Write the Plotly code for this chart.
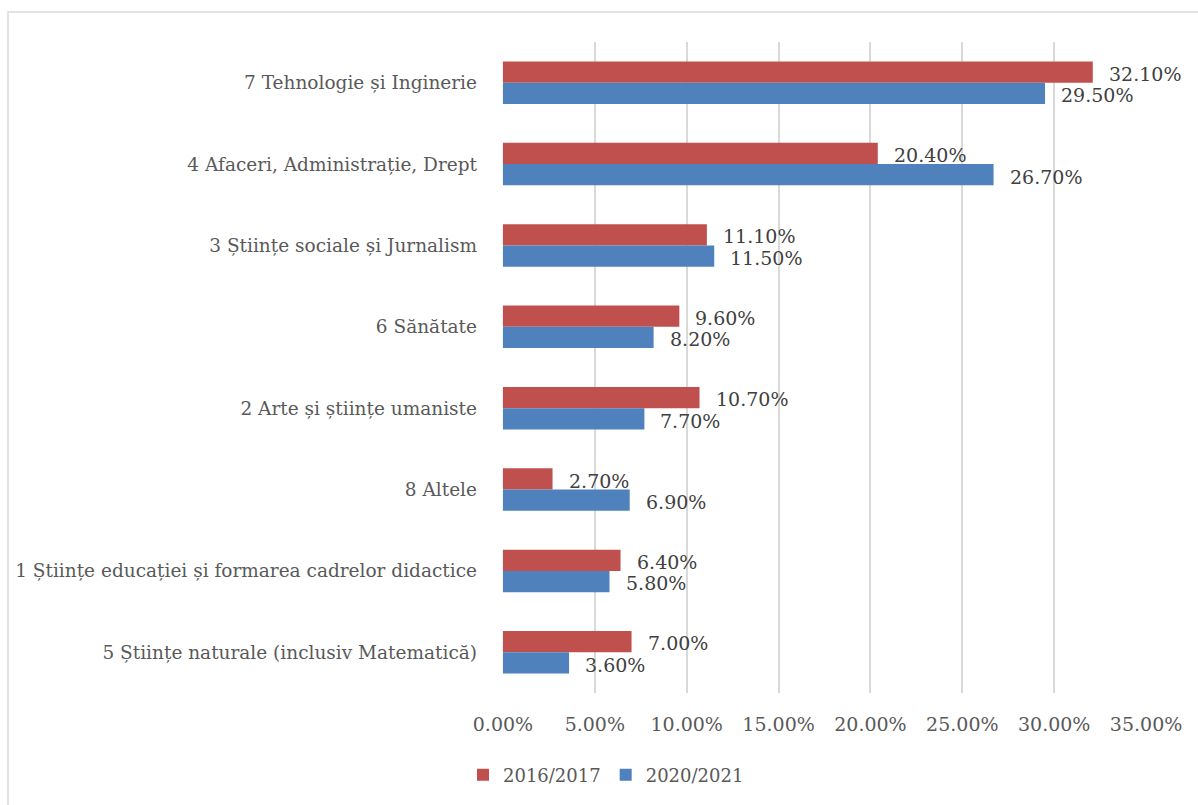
import plotly.graph_objects as go

categories = [
    "7 Tehnologie și Inginerie",
    "4 Afaceri, Administrație, Drept",
    "3 Științe sociale și Jurnalism",
    "6 Sănătate",
    "2 Arte și științe umaniste",
    "8 Altele",
    "1 Științe educației și formarea cadrelor didactice",
    "5 Științe naturale (inclusiv Matematică)",
]
series_names = ["2016/2017", "2020/2021"]
values_2016 = [0.321, 0.204, 0.111, 0.096, 0.107, 0.027, 0.064, 0.070]
values_2020 = [0.295, 0.267, 0.115, 0.082, 0.077, 0.069, 0.058, 0.036]
tick_values = [0, 0.05, 0.10, 0.15, 0.20, 0.25, 0.30, 0.35]

colors = ["#C0504D", "#4F81BD"]
FONT = "DejaVu Serif"
FS = 19
W, H = 1198, 805
L, R, T, B = 502, 51, 42, 112

fig = go.Figure()
for name, vals, col in zip(series_names, [values_2016, values_2020], colors):
    fig.add_trace(go.Bar(
        y=categories, x=vals, name=name, orientation="h",
        marker=dict(color=col, line=dict(width=0)),
    ))

annotations = []
for vals, ys in [(values_2016, 9), (values_2020, -12.5)]:
    for c, v in zip(categories, vals):
        annotations.append(dict(
            x=v, y=c, xref="x", yref="y", text=f"{v*100:.2f}%",
            showarrow=False, xanchor="left", yanchor="middle",
            xshift=14, yshift=ys,
            font=dict(family=FONT, size=FS, color="#404040"),
        ))

pw = W - L - R
ph = H - T - B
fig.update_layout(
    width=W, height=H,
    margin=dict(l=L, r=R, t=T, b=B, pad=0),
    paper_bgcolor="white", plot_bgcolor="white",
    barmode="group", bargap=0.477, bargroupgap=0,
    font=dict(family=FONT, size=FS, color="#595959"),
    xaxis=dict(
        range=[-0.0005, 0.3505], tickvals=tick_values, tickformat=".2%",
        showgrid=True, gridcolor="#D9D9D9", gridwidth=1.5,
        zeroline=False, showline=False, ticks="",
        ticklabelstandoff=18,
        tickfont=dict(family=FONT, size=FS, color="#595959"),
    ),
    yaxis=dict(
        autorange="reversed", showgrid=False, zeroline=False,
        showline=False, ticks="", ticklabelstandoff=24,
        tickfont=dict(family=FONT, size=18.5, color="#595959"),
    ),
    legend=dict(
        orientation="h", x=(463 - L) / pw, xanchor="left",
        y=-(775 - (T + ph)) / ph, yanchor="middle",
        font=dict(family=FONT, size=18, color="#595959"),
        itemwidth=30, traceorder="normal",
    ),
    annotations=annotations,
    shapes=[dict(
        type="rect", xref="paper", yref="paper",
        x0=(8 - L) / pw, x1=(1210 - L) / pw,
        y0=-(820 - (T + ph)) / ph, y1=1 + (T - 12) / ph,
        line=dict(color="#D9D9D9", width=1.5), fillcolor="rgba(0,0,0,0)",
        layer="below",
    )],
)
fig.write_html(
    "out.html",
    config={"displayModeBar": False},
    post_script="document.body.style.margin='0';document.body.style.padding='0';",
)
